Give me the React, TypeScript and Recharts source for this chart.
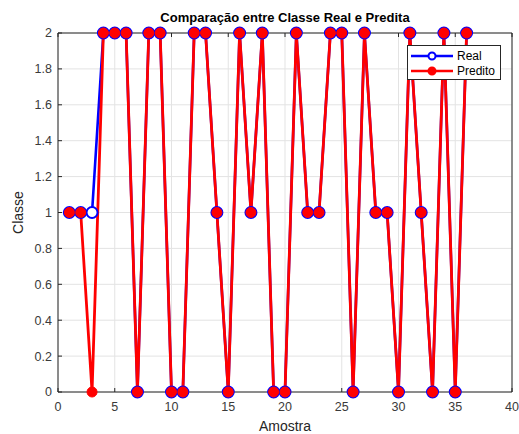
import React from "react";
import { LineChart, Line, XAxis, YAxis, CartesianGrid } from "recharts";

const amostras = [
  1, 2, 3, 4, 5, 6, 7, 8, 9, 10, 11, 12, 13, 14, 15, 16, 17, 18, 19, 20, 21,
  22, 23, 24, 25, 26, 27, 28, 29, 30, 31, 32, 33, 34, 35, 36,
];
const classeReal = [
  1, 1, 1, 2, 2, 2, 0, 2, 2, 0, 0, 2, 2, 1, 0, 2, 1, 2, 0, 0, 2, 1, 1, 2, 2,
  0, 2, 1, 1, 0, 2, 1, 0, 2, 0, 2,
];
const classePredita = [
  1, 1, 0, 2, 2, 2, 0, 2, 2, 0, 0, 2, 2, 1, 0, 2, 1, 2, 0, 0, 2, 1, 1, 2, 2,
  0, 2, 1, 1, 0, 2, 1, 0, 2, 0, 2,
];
const xTicks = [0, 5, 10, 15, 20, 25, 30, 35, 40];
const yTicks = [0, 0.2, 0.4, 0.6, 0.8, 1, 1.2, 1.4, 1.6, 1.8, 2];
const seriesNames = ["Real", "Predito"];

const data = amostras.map((a, i) => ({
  amostra: a,
  real: classeReal[i],
  predito: classePredita[i],
}));

const FONT = '"Liberation Sans", Arial, Helvetica, sans-serif';
const AX = "#262626";

const LegendBox = () => (
  <div
    style={{
      position: "absolute",
      left: 407,
      top: 45,
      width: 94,
      height: 35,
      border: "1px solid #262626",
      background: "#fff",
      fontFamily: FONT,
      fontSize: 12,
      color: "#000",
      boxSizing: "border-box",
      paddingTop: 2,
      zIndex: 3,
    }}
  >
    {[
      { name: seriesNames[0], color: "#0000ff", fill: "#fff" },
      { name: seriesNames[1], color: "#ff0000", fill: "#ff0000" },
    ].map((e) => (
      <div
        key={e.name}
        style={{ display: "flex", alignItems: "center", height: 15 }}
      >
        <svg width={48} height={14} style={{ display: "block" }}>
          <line x1={3} x2={45} y1={7} y2={7} stroke={e.color} strokeWidth={2.5} />
          <circle cx={24} cy={7} r={3.5} fill={e.fill} stroke={e.color} strokeWidth={2} />
        </svg>
        <span style={{ marginLeft: 1 }}>{e.name}</span>
      </div>
    ))}
  </div>
);

export default function App() {
  return (
    <div
      style={{
        position: "absolute",
        left: 0,
        top: 0,
        width: 519,
        height: 434,
        background: "#fff",
      }}
    >
      <div
        style={{
          position: "absolute",
          left: 58,
          width: 454,
          top: 10,
          textAlign: "center",
          fontFamily: FONT,
          fontWeight: "bold",
          fontSize: 13,
          color: "#000",
          lineHeight: "16px",
          zIndex: 2,
        }}
      >
        Comparação entre Classe Real e Predita
      </div>
      <LegendBox />
      <LineChart
        width={519}
        height={434}
        data={data}
        margin={{ top: 0, right: 0, bottom: 0, left: 0 }}
      >
        <CartesianGrid
          stroke="#e3e3e3"
          strokeWidth={1}
          xAxisId="bottom"
          yAxisId="left"
        />
        <XAxis
          xAxisId="bottom"
          dataKey="amostra"
          type="number"
          domain={[0, 40]}
          ticks={xTicks}
          height={42}
          interval={0}
          tickSize={-4}
          tickMargin={14}
          axisLine={{ stroke: AX }}
          tickLine={{ stroke: AX }}
          tick={{ fill: "#3a3a3a", fontSize: 12.5, fontFamily: FONT }}
          label={{
            value: "Amostra",
            position: "insideBottom",
            offset: 3,
            fill: AX,
            fontSize: 14,
            fontFamily: FONT,
          }}
        />
        <XAxis
          xAxisId="top"
          orientation="top"
          dataKey="amostra"
          type="number"
          domain={[0, 40]}
          ticks={xTicks}
          height={33}
          interval={0}
          tickSize={-4}
          axisLine={{ stroke: AX }}
          tickLine={{ stroke: AX }}
          tickFormatter={() => ""}
        />
        <YAxis
          yAxisId="left"
          type="number"
          domain={[0, 2]}
          ticks={yTicks}
          width={58}
          interval={0}
          tickSize={-4}
          tickMargin={10}
          axisLine={{ stroke: AX }}
          tickLine={{ stroke: AX }}
          tick={{ fill: "#3a3a3a", fontSize: 12.5, fontFamily: FONT }}
          label={{
            value: "Classe",
            angle: -90,
            position: "insideLeft",
            offset: 18,
            fill: AX,
            fontSize: 14,
            fontFamily: FONT,
            style: { textAnchor: "middle" },
          }}
        />
        <YAxis
          yAxisId="right"
          orientation="right"
          type="number"
          domain={[0, 2]}
          ticks={yTicks}
          width={7}
          interval={0}
          tickSize={-4}
          axisLine={{ stroke: AX }}
          tickLine={{ stroke: AX }}
          tickFormatter={() => ""}
        />
        <Line
          xAxisId="bottom"
          yAxisId="left"
          type="linear"
          dataKey="real"
          name={seriesNames[0]}
          stroke="#0000ff"
          strokeWidth={2.6}
          dot={{ r: 5.5, fill: "#fff", stroke: "#0000ff", strokeWidth: 2 }}
          activeDot={false}
          isAnimationActive={false}
        />
        <Line
          xAxisId="bottom"
          yAxisId="left"
          type="linear"
          dataKey="predito"
          name={seriesNames[1]}
          stroke="#ff0000"
          strokeWidth={2.8}
          dot={{ r: 5, fill: "#ff0000", stroke: "#ff0000", strokeWidth: 1 }}
          activeDot={false}
          isAnimationActive={false}
        />
      </LineChart>
    </div>
  );
}
